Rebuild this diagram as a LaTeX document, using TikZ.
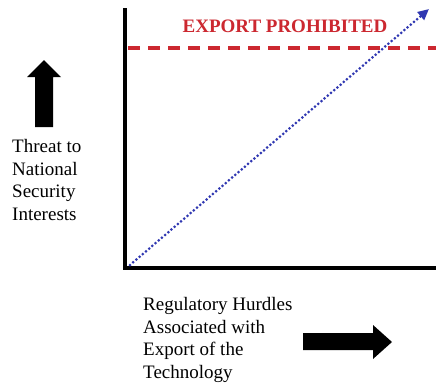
\documentclass[tikz,border=0pt]{standalone}
\usepackage{fontspec}
\setmainfont{Liberation Serif}
\usetikzlibrary{arrows.meta}
\definecolor{limitred}{RGB}{204,40,48}
\definecolor{trendblue}{RGB}{48,56,178}
\tikzset{
  axisline/.style={line width=3.5pt, black},
  limitline/.style={line width=3.5pt, limitred, dash pattern=on 12pt off 8pt},
  trendline/.style={line width=3pt, trendblue, line cap=round, dash pattern=on 0pt off 4.2pt, -{Triangle[length=11pt,width=10pt]}},
  bigarrow/.style={fill=black, draw=none},
  label/.style={font=\fontsize{19}{22.5}\selectfont, align=left, anchor=base west, inner sep=0pt},
}
\begin{document}
\begin{tikzpicture}[x=1pt,y=-1pt]
\useasboundingbox[fill=white] (0,0) rectangle (436,383);
\coordinate (ytop) at (125,8);
\coordinate (origin) at (125,268);
\coordinate (xend) at (436,268);
\coordinate (dashstart) at (128,48);
\coordinate (dashend) at (436,48);
\coordinate (trendstart) at (130,265);
\coordinate (trendend) at (429,9);
\draw[axisline] (ytop) -- (origin) -- (xend);
\draw[limitline] (dashstart) -- (dashend);
\draw[trendline] (trendstart) -- (trendend);
\node[font=\fontsize{19}{22}\selectfont\bfseries, text=limitred, anchor=base, inner sep=0pt] (prohib) at (285,32) {EXPORT PROHIBITED};
% up arrow
\fill[bigarrow] (44,60) -- (61,77) -- (53,77) -- (53,127) -- (35,127) -- (35,77) -- (27,77) -- cycle;
\node[label] (threat) at (12,220) {Threat to\\National\\Security\\Interests};
% right arrow
\fill[bigarrow] (392,342) -- (373,325) -- (373,333) -- (303,333) -- (303,350) -- (373,350) -- (373,359) -- cycle;
\node[label] (hurdles) at (143,378) {Regulatory Hurdles\\Associated with\\Export of the\\Technology};
\end{tikzpicture}
\end{document}
